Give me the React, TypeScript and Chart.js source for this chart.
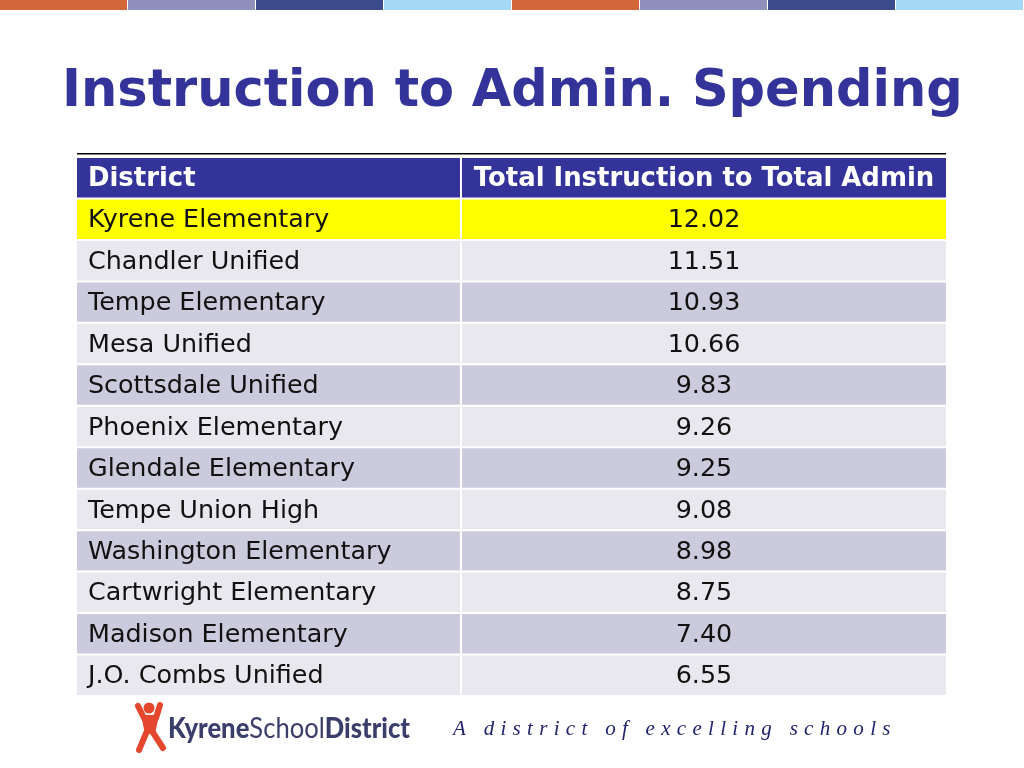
import { useEffect, useRef } from "react";
import { Chart, registerables } from "chart.js";

Chart.register(...registerables);

// ---------- data ----------
const titleText = "Instruction to Admin. Spending";
const headerDistrict = "District";
const headerRatio = "Total Instruction to Total Admin";
const districts = [
  "Kyrene Elementary",
  "Chandler Unified",
  "Tempe Elementary",
  "Mesa Unified",
  "Scottsdale Unified",
  "Phoenix Elementary",
  "Glendale Elementary",
  "Tempe Union High",
  "Washington Elementary",
  "Cartwright Elementary",
  "Madison Elementary",
  "J.O. Combs Unified",
];
const ratios = [12.02, 11.51, 10.93, 10.66, 9.83, 9.26, 9.25, 9.08, 8.98, 8.75, 7.4, 6.55];
const highlightIndex = 0;
const tagline = "A district of excelling schools";
const logoWords: [string, boolean][] = [
  ["Kyrene", true],
  ["School", false],
  ["District", true],
];

// ---------- styles ----------
const stripeColors = ["#D4673A", "#8E8FBA", "#3A4A8A", "#A5D8F5"];
const navy = "#333399";
const yellow = "#FFFF00";
const lightRow = "#E8E8EE";
const darkRow = "#CBCBDD";
const splitFrac = 0.4407;
const gapFrac = 0.0023;

const rowLabels = [headerDistrict, ...districts];
const rowColors = rowLabels.map((_, i) => {
  if (i === 0) return navy;
  const d = i - 1;
  if (d === highlightIndex) return yellow;
  return d % 2 === 1 ? lightRow : darkRow;
});

const decorPlugin = {
  id: "tableDecor",
  beforeDraw(chart: any) {
    const ctx = chart.ctx as CanvasRenderingContext2D;
    const { width } = chart;
    ctx.save();
    ctx.fillStyle = "#FFFFFF";
    ctx.fillRect(0, 0, chart.width, chart.height);
    // top stripe
    const seg = width / 8;
    for (let i = 0; i < 8; i++) {
      ctx.fillStyle = stripeColors[i % 4];
      ctx.fillRect(i * seg, 0, seg - 1, 10);
    }
    // title
    ctx.fillStyle = navy;
    ctx.font = "bold 51px 'DejaVu Sans'";
    ctx.textBaseline = "alphabetic";
    ctx.textAlign = "left";
    ctx.fillText(titleText, 62, 106);
    // rule line
    const area = chart.chartArea;
    ctx.fillStyle = "#000000";
    ctx.fillRect(area.left, area.top - 4, area.right - area.left, 1.5);
    ctx.restore();
  },
  afterDatasetsDraw(chart: any) {
    const ctx = chart.ctx as CanvasRenderingContext2D;
    const xs = chart.scales.x;
    const ys = chart.scales.y;
    const leftX = xs.getPixelForValue(0) + 11;
    const c2 = (xs.getPixelForValue(splitFrac + gapFrac) + xs.getPixelForValue(1)) / 2;
    ctx.save();
    ctx.textBaseline = "middle";
    // header
    const hy = ys.getPixelForValue(0) + 1.5;
    ctx.fillStyle = "#FFFFFF";
    ctx.font = "bold 25.9px 'DejaVu Sans'";
    ctx.textAlign = "left";
    ctx.fillText(headerDistrict, leftX, hy);
    ctx.textAlign = "center";
    ctx.fillText(headerRatio, c2, hy);
    // rows
    ctx.fillStyle = "#111111";
    ctx.font = "25.4px 'DejaVu Sans'";
    districts.forEach((d, i) => {
      const y = ys.getPixelForValue(i + 1) + 1.5;
      ctx.textAlign = "left";
      ctx.fillText(d, leftX, y);
      ctx.textAlign = "center";
      ctx.fillText(ratios[i].toFixed(2), c2, y);
    });
    ctx.restore();
  },
  afterDraw(chart: any) {
    const ctx = chart.ctx as CanvasRenderingContext2D;
    ctx.save();
    // logo figure
    ctx.strokeStyle = "#E4462E";
    ctx.fillStyle = "#E4462E";
    ctx.lineCap = "round";
    ctx.lineJoin = "round";
    ctx.lineWidth = 6;
    ctx.beginPath();
    ctx.moveTo(138, 706);
    ctx.lineTo(144, 718);
    ctx.moveTo(160, 705);
    ctx.lineTo(156, 718);
    ctx.moveTo(147, 731);
    ctx.lineTo(139, 750);
    ctx.moveTo(152, 731);
    ctx.lineTo(163, 748);
    ctx.stroke();
    ctx.beginPath();
    ctx.moveTo(141, 715);
    ctx.lineTo(159, 715);
    ctx.lineTo(155, 734);
    ctx.lineTo(145, 734);
    ctx.closePath();
    ctx.fill();
    ctx.beginPath();
    ctx.arc(149, 708, 5.5, 0, Math.PI * 2);
    ctx.fill();
    // logo text
    const fontSize = 28;
    ctx.fillStyle = "#3B3E6B";
    ctx.textBaseline = "alphabetic";
    ctx.textAlign = "left";
    let total = 0;
    const widths = logoWords.map(([w, b]) => {
      ctx.font = `${b ? "900 " : ""}${fontSize}px Lato`;
      const m = ctx.measureText(w).width;
      total += m;
      return m;
    });
    const sx = 242 / total;
    ctx.translate(168, 738);
    ctx.scale(sx, 1);
    let x = 0;
    logoWords.forEach(([w, b], i) => {
      ctx.font = `${b ? "900 " : ""}${fontSize}px Lato`;
      ctx.fillText(w, x, 0);
      x += widths[i];
    });
    ctx.setTransform(1, 0, 0, 1, 0, 0);
    // tagline
    ctx.fillStyle = "#22226E";
    ctx.font = "italic 21px 'Liberation Serif'";
    (ctx as any).letterSpacing = "6.3px";
    ctx.fillText(tagline, 453, 735);
    ctx.restore();
  },
};

export default function App() {
  const ref = useRef<HTMLCanvasElement | null>(null);
  useEffect(() => {
    if (!ref.current) return;
    const chart = new Chart(ref.current, {
      type: "bar",
      data: {
        labels: rowLabels,
        datasets: [
          {
            label: "District",
            data: rowLabels.map(() => [0, splitFrac] as [number, number]),
            backgroundColor: rowColors,
            borderWidth: 0,
            borderSkipped: false,
            grouped: false,
            categoryPercentage: 1,
            barPercentage: 0.952,
          } as any,
          {
            label: "Ratio",
            data: rowLabels.map(() => [splitFrac + gapFrac, 1] as [number, number]),
            backgroundColor: rowColors,
            borderWidth: 0,
            borderSkipped: false,
            grouped: false,
            categoryPercentage: 1,
            barPercentage: 0.952,
          } as any,
        ],
      },
      options: {
        indexAxis: "y",
        responsive: false,
        animation: false,
        devicePixelRatio: 1,
        layout: { padding: { left: 77, right: 78, top: 157, bottom: 72 } },
        scales: {
          x: { type: "linear", min: 0, max: 1, display: false },
          y: { type: "category", display: false, offset: true },
        },
        plugins: { legend: { display: false }, tooltip: { enabled: false } },
      },
      plugins: [decorPlugin],
    });
    return () => chart.destroy();
  }, []);
  return (
    <canvas
      ref={ref}
      width={1024}
      height={768}
      style={{ position: "absolute", left: 0, top: 0, width: 1024, height: 768 }}
    />
  );
}
